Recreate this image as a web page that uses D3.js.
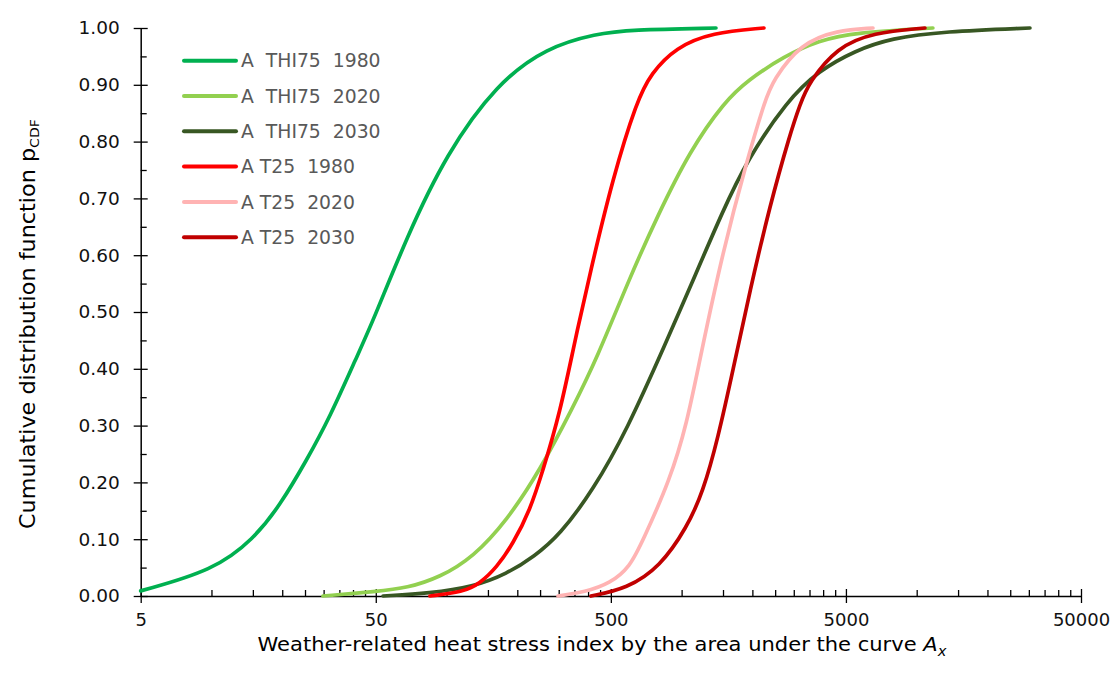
<!DOCTYPE html>
<html>
<head>
<meta charset="utf-8">
<script src="https://cdn.jsdelivr.net/npm/d3@7"></script>
<style>
  body { margin: 0; background: #fff; }
  svg { font-family: "DejaVu Sans", sans-serif; }
</style>
</head>
<body>
<svg id="chart" width="1115" height="680"></svg>
<script>
// series names, in drawing order
var seriesNames = ["A  THI75  1980", "A  THI75  2020", "A  THI75  2030",
                   "A T25  1980", "A T25  2020", "A T25  2030"];

// [index A_x, p_CDF]
var thi75_1980 = [[5, 0.009], [10.2, 0.045], [15.1, 0.1], [19.6, 0.16], [25.4, 0.239],
  [31.9, 0.315], [41.5, 0.421], [48.8, 0.485], [67.7, 0.632], [100, 0.779], [163.5, 0.902],
  [266.7, 0.966], [435, 0.99], [603, 0.997], [1400, 1.0]];
var thi75_2020 = [[29.8, 0.0], [50.6, 0.008], [67.9, 0.014], [93.8, 0.033], [129.5, 0.068],
  [180.7, 0.133], [249.6, 0.221], [344.6, 0.332], [435.6, 0.418], [602.5, 0.561], [785, 0.667],
  [1084, 0.784], [1527, 0.871], [1914, 0.908], [2722, 0.95], [3837, 0.978], [5457, 0.992],
  [11720, 1.0]];
var thi75_2030 = [[53.7, 0.0], [85, 0.005], [129.5, 0.016], [180.7, 0.039], [236.6, 0.07],
  [302.4, 0.107], [419.6, 0.186], [585.5, 0.292], [866, 0.45], [1085, 0.543], [1500, 0.679],
  [1897, 0.767], [2807, 0.872], [3838, 0.925], [5463, 0.96], [7770, 0.982], [13062, 0.994],
  [30325, 1.0]];
var t25_1980 = [[85, 0.0], [117.5, 0.007], [138.7, 0.022], [163.9, 0.051], [191.7, 0.092],
  [226.5, 0.151], [257.1, 0.221], [303.7, 0.322], [351.9, 0.45], [407.5, 0.568], [510.4, 0.737],
  [645.6, 0.872], [740.5, 0.92], [945.9, 0.966], [1346, 0.992], [2240, 1.0]];
var t25_2020 = [[297.9, 0.0], [388, 0.007], [495.6, 0.022], [603, 0.051], [684.6, 0.098],
  [892, 0.204], [1054, 0.304], [1197, 0.418], [1500, 0.608], [1897, 0.767], [2262, 0.872],
  [2446, 0.908], [3219, 0.973], [4578, 0.996], [6517, 1.0]];
var t25_2030 = [[411.6, 0.0], [585.5, 0.013], [809, 0.051], [1054, 0.121], [1233, 0.183],
  [1428, 0.278], [1653, 0.397], [1953, 0.538], [2376, 0.688], [2890, 0.813], [3187, 0.865],
  [3480, 0.904], [4578, 0.966], [6517, 0.992], [10840, 1.0]];

var seriesData = [thi75_1980, thi75_2020, thi75_2030, t25_1980, t25_2020, t25_2030];

// axis ticks
var xMajorTicks = [5, 50, 500, 5000, 50000];
var yMajorTicks = [0, 0.1, 0.2, 0.3, 0.4, 0.5, 0.6, 0.7, 0.8, 0.9, 1.0];

var colors = ["#00b050", "#92d050", "#385723", "#ff0000", "#ffb3b3", "#c00000"];

var svg = d3.select("#chart");

var x = d3.scaleLog().domain([5, 50000]).range([140.7, 1081]);
var y = d3.scaleLinear().domain([0, 1]).range([596, 28]);

// minor ticks: 10,15,...,45 in every decade
var xMinorTicks = [];
for (var d = 0; d < 4; d++) {
    for (var k = 2; k <= 9; k++) {
        xMinorTicks.push(5 * Math.pow(10, d) * k);
    }
}
var yMinorTicks = yMajorTicks.slice(0, 10).map(function(v) { return v + 0.05; });

// x axis
var xMinor = svg.append("g").attr("transform", "translate(0," + y(0) + ")")
    .call(d3.axisBottom(x).tickValues(xMinorTicks).tickSize(-6).tickFormat(""));
xMinor.select(".domain").remove();

var xAxis = svg.append("g").attr("transform", "translate(0," + y(0) + ")")
    .call(d3.axisBottom(x).tickValues(xMajorTicks).tickFormat(d3.format("d"))
        .tickSize(7).tickSizeOuter(0).tickPadding(10));
xAxis.selectAll(".tick line").attr("y1", -7);
xAxis.selectAll("text").attr("font-size", 18).attr("font-family", "DejaVu Sans").attr("fill", "#111");

// y axis
var yMinor = svg.append("g").attr("transform", "translate(" + x(5) + ",0)")
    .call(d3.axisLeft(y).tickValues(yMinorTicks).tickSize(-6).tickFormat(""));
yMinor.select(".domain").remove();

var yAxis = svg.append("g").attr("transform", "translate(" + x(5) + ",0)")
    .call(d3.axisLeft(y).tickValues(yMajorTicks).tickFormat(d3.format(".2f"))
        .tickSize(7).tickSizeOuter(0).tickPadding(14));
yAxis.selectAll(".tick line").attr("x1", 7);
yAxis.selectAll("text").attr("font-size", 18.5).attr("font-family", "DejaVu Sans").attr("fill", "#111");

svg.selectAll(".domain").attr("stroke-width", 1.5);
svg.selectAll(".tick line").attr("stroke-width", 1.3);

// curves
var line = d3.line()
    .x(function(d) { return x(d[0]); })
    .y(function(d) { return y(d[1]); })
    .curve(d3.curveBasis);

svg.append("g").selectAll("path").data(seriesData).enter().append("path")
    .attr("d", line)
    .attr("fill", "none")
    .attr("stroke", function(d, i) { return colors[i]; })
    .attr("stroke-width", 3.7)
    .attr("stroke-linecap", "round")
    .attr("stroke-linejoin", "round");

// legend
var legend = svg.append("g");
var rows = legend.selectAll("g").data(seriesNames).enter().append("g")
    .attr("transform", function(d, i) { return "translate(0," + (60.7 + i * 35.3) + ")"; });
rows.append("line")
    .attr("x1", 184).attr("x2", 236).attr("y1", 0).attr("y2", 0)
    .attr("stroke", function(d, i) { return colors[i]; })
    .attr("stroke-width", 4)
    .attr("stroke-linecap", "round");
rows.append("text")
    .attr("x", 241).attr("y", 0).attr("dy", "0.36em")
    .attr("font-size", 18.8).attr("fill", "#595959")
    .style("white-space", "pre")
    .text(function(d) { return d; });

// axis titles
var yTitle = svg.append("text")
    .attr("transform", "translate(35,324) rotate(-90)")
    .attr("text-anchor", "middle")
    .attr("font-size", 20.5).attr("fill", "#000")
    .attr("textLength", 410).attr("lengthAdjust", "spacingAndGlyphs");
yTitle.append("tspan").text("Cumulative distribution function p");
yTitle.append("tspan").attr("font-size", 13).attr("dy", 4).text("CDF");

var xTitle = svg.append("text")
    .attr("x", 602).attr("y", 651)
    .attr("text-anchor", "middle")
    .attr("font-size", 20).attr("fill", "#000")
    .attr("textLength", 689).attr("lengthAdjust", "spacingAndGlyphs");
xTitle.append("tspan").text("Weather-related heat stress index by the area under the curve ");
xTitle.append("tspan").attr("font-style", "italic").text("A");
xTitle.append("tspan").attr("font-style", "italic").attr("font-size", 14).attr("dy", 5).text("x");
</script>
</body>
</html>
